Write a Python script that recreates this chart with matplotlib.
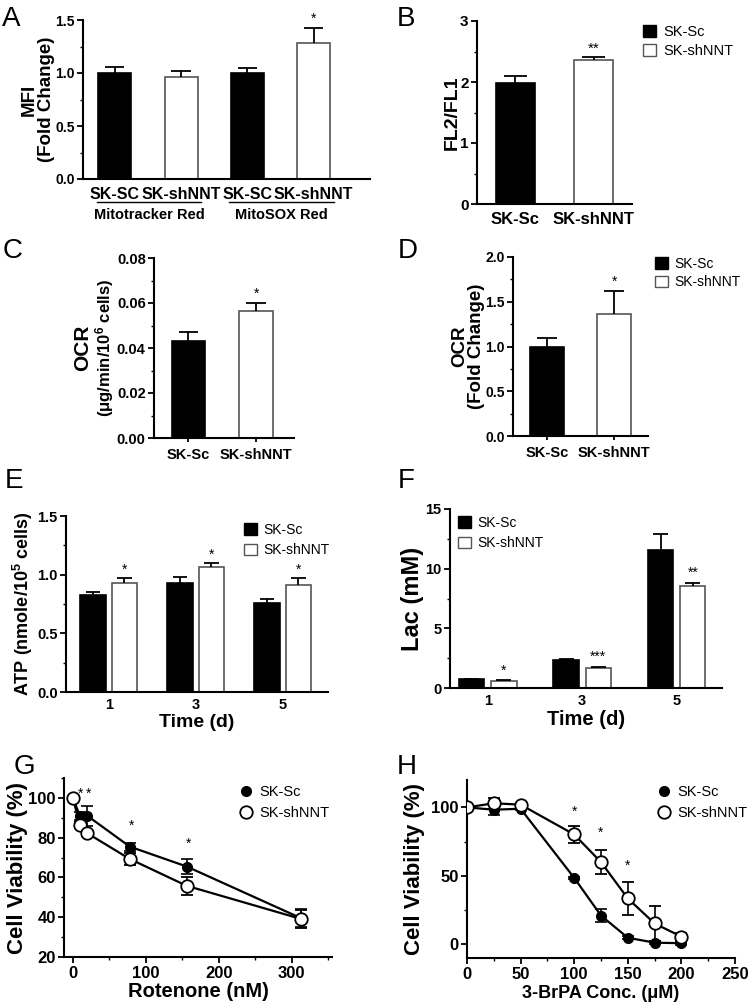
import matplotlib
matplotlib.use("Agg")
import matplotlib.pyplot as plt
from matplotlib.patches import Patch
from matplotlib.lines import Line2D
from matplotlib.ticker import AutoMinorLocator, MultipleLocator
import numpy as np

plt.rcParams["font.family"] = ["Liberation Sans", "DejaVu Sans"]
plt.rcParams["font.weight"] = "bold"
plt.rcParams["axes.labelweight"] = "bold"
plt.rcParams["mathtext.default"] = "regular"
plt.rcParams["axes.linewidth"] = 1.5
plt.rcParams["xtick.major.width"] = 1.3
plt.rcParams["ytick.major.width"] = 1.3
plt.rcParams["xtick.minor.width"] = 1.0
plt.rcParams["ytick.minor.width"] = 1.0
plt.rcParams["xtick.major.size"] = 4
plt.rcParams["ytick.major.size"] = 4
plt.rcParams["xtick.minor.size"] = 2.5
plt.rcParams["ytick.minor.size"] = 2.5
plt.rcParams["xtick.major.pad"] = 2.5
plt.rcParams["ytick.major.pad"] = 2

# ---- data ----
A_labels = ["SK-SC", "SK-shNNT", "SK-SC", "SK-shNNT"]
A_vals = [1.0, 0.965, 1.0, 1.285]
A_err = [0.06, 0.057, 0.044, 0.14]
A_stars = ["", "", "", "*"]
A_groups = ["Mitotracker Red", "MitoSOX Red"]

B_labels = ["SK-Sc", "SK-shNNT"]
B_vals = [1.98, 2.36]
B_err = [0.12, 0.045]
B_stars = ["", "**"]

C_vals = [0.0431, 0.0566]
C_err = [0.0039, 0.0033]
C_stars = ["", "*"]

D_vals = [1.0, 1.365]
D_err = [0.10, 0.25]
D_stars = ["", "*"]

days = ["1", "3", "5"]
E_sc = [0.827, 0.932, 0.756]
E_sc_err = [0.028, 0.051, 0.037]
E_sh = [0.926, 1.068, 0.912]
E_sh_err = [0.043, 0.034, 0.062]
E_stars = ["*", "*", "*"]

F_sc = [0.75, 2.35, 11.57]
F_sc_err = [0.03, 0.05, 1.31]
F_sh = [0.61, 1.70, 8.55]
F_sh_err = [0.03, 0.10, 0.28]
F_stars = ["*", "***", "**"]

G_x = [0, 10, 20, 78, 156, 312]
G_sc = [100, 90.8, 91, 75.5, 65.5, 39.6]
G_sc_err = [0, 2, 5, 2, 3.8, 4.5]
G_sh = [100, 86.4, 82.2, 69.3, 55.8, 39.2]
G_sh_err = [0, 1.5, 1.5, 3, 4.6, 4.5]

H_x = [0, 25, 50, 100, 125, 150, 175, 200]
H_sc = [100, 98.3, 99, 48.5, 21, 4.8, 1.2, 0.8]
H_sc_err = [0, 4, 1, 1, 5, 1, 1, 1]
H_sh = [100, 103, 102, 80.2, 60, 33.5, 15.2, 5.6]
H_sh_err = [0, 4, 1, 6, 9, 12, 12.5, 3]

legend_names = ["SK-Sc", "SK-shNNT"]

W, H = 750, 1006
fig = plt.figure(figsize=(W / 100, H / 100), dpi=100)


def ax_at(l, t, r, b):
    return fig.add_axes([l / W, 1 - b / H, (r - l) / W, (b - t) / H])


def style(ax, size=10):
    for s in ("top", "right"):
        ax.spines[s].set_visible(False)
    ax.tick_params(labelsize=size)


def bars(ax, x, vals, errs, fill, width, stars=None, star_off=0.0, star_size=10):
    edge = "black" if fill == "black" else "#555555"
    ax.bar(x, vals, width, color=fill, edgecolor=edge, linewidth=1.2, zorder=2)
    for xi, v, e in zip(x, vals, errs):
        ax.vlines(xi, v, v + e, color="black", lw=1.3, zorder=3)
        ax.hlines(v + e, xi - width * 0.29, xi + width * 0.29, color="black", lw=1.3, zorder=3)
    if stars:
        for xi, v, e, s in zip(x, vals, errs, stars):
            if s:
                ax.text(xi, v + e + star_off, s, ha="center", va="bottom",
                        fontsize=star_size, fontweight="normal")


def square_legend(ax, anchor, size=10, spacing=0.3):
    handles = [Patch(facecolor="black", edgecolor="black"),
               Patch(facecolor="white", edgecolor="#555555", linewidth=1.0)]
    ax.legend(handles, legend_names, loc="upper left", bbox_to_anchor=anchor,
              bbox_transform=fig.transFigure, frameon=False, handlelength=0.9,
              handleheight=0.9, handletextpad=0.5, borderpad=0, borderaxespad=0,
              labelspacing=spacing, prop={"size": size, "weight": "normal"})


def ylab(ax, text, size, right_px, left_px, width_px, **kw):
    # place the right edge of the rotated y label at a given pixel column
    ax.set_ylabel(text, fontsize=size, **kw)
    ax.yaxis.set_label_coords((right_px - left_px) / width_px, 0.5)


def letter(x, y, s):
    # y is the top of the capital letter in pixels
    fig.text(x / W, 1 - (y - 4) / H, s, fontsize=20, fontweight="normal", va="top", ha="left")


# ---- A ----
ax = ax_at(83, 20, 370, 179)
style(ax)
xa = np.arange(4)
fills = ["black", "white", "black", "white"]
for i in range(4):
    bars(ax, [xa[i]], [A_vals[i]], [A_err[i]], fills[i], 0.5, [A_stars[i]], 0.02)
ax.set_xlim(-0.48, 3.85)
ax.set_ylim(0, 1.5)
ax.set_yticks([0, 0.5, 1.0, 1.5])
ax.set_yticklabels(["0.0", "0.5", "1.0", "1.5"])
ax.yaxis.set_minor_locator(AutoMinorLocator(2))
ax.set_xticks(xa)
ax.set_xticklabels(A_labels, fontsize=11.5)
ax.tick_params(axis="x", length=0, pad=6)
ylab(ax, "MFI\n(Fold Change)", 13.5, 55, 83, 287, linespacing=1.05)
trans = ax.get_xaxis_transform()
for g, name in enumerate(A_groups):
    x0, x1 = 2 * g - 0.27, 2 * g + 1.3
    ax.plot([x0, x1], [-0.145, -0.145], color="black", lw=1.0, transform=trans, clip_on=False)
    ax.text((x0 + x1) / 2, -0.185, name, transform=trans, ha="center", va="top", fontsize=10.5)

# ---- B ----
ax = ax_at(477, 21, 632, 204)
style(ax, 11)
bars(ax, [0], [B_vals[0]], [B_err[0]], "black", 0.5)
bars(ax, [1], [B_vals[1]], [B_err[1]], "white", 0.5, [B_stars[1]], 0.03, 11)
ax.set_xlim(-0.49, 1.49)
ax.set_ylim(0, 3)
ax.set_yticks([0, 1, 2, 3])
ax.yaxis.set_minor_locator(AutoMinorLocator(2))
ax.set_xticks([0, 1])
ax.set_xticklabels(B_labels, fontsize=12)
ax.tick_params(axis="x", length=0, pad=6)
ylab(ax, "FL2/FL1", 14, 461, 477, 155)
square_legend(ax, (643 / W, 1 - 25 / H), size=10.5, spacing=0.35)

# ---- C ----
ax = ax_at(154, 258, 294, 438)
style(ax, 10.5)
bars(ax, [0], [C_vals[0]], [C_err[0]], "black", 0.5)
bars(ax, [1], [C_vals[1]], [C_err[1]], "white", 0.5, [C_stars[1]], 0.001)
ax.set_xlim(-0.51, 1.56)
ax.set_ylim(0, 0.08)
ax.set_yticks([0, 0.02, 0.04, 0.06, 0.08])
ax.set_yticklabels(["0.00", "0.02", "0.04", "0.06", "0.08"])
ax.yaxis.set_minor_locator(AutoMinorLocator(2))
ax.set_xticks([0, 1])
ax.set_xticklabels(B_labels, fontsize=10.5)
ax.tick_params(axis="x", length=3, pad=4)
ax.text(-0.51, 0.5, "OCR", rotation=90, transform=ax.transAxes, ha="center", va="center",
        fontsize=15)
ax.text(-0.35, 0.5, "(\u03bcg/min/10$^{6}$ cells)", rotation=90,
        transform=ax.transAxes, ha="center", va="center", fontsize=12)

# ---- D ----
ax = ax_at(513, 257, 648, 436)
style(ax, 10)
bars(ax, [0], [D_vals[0]], [D_err[0]], "black", 0.5)
bars(ax, [1], [D_vals[1]], [D_err[1]], "white", 0.5, [D_stars[1]], 0.03)
ax.set_xlim(-0.5, 1.5)
ax.set_ylim(0, 2.0)
ax.set_yticks([0, 0.5, 1.0, 1.5, 2.0])
ax.set_yticklabels(["0.0", "0.5", "1.0", "1.5", "2.0"])
ax.yaxis.set_minor_locator(AutoMinorLocator(2))
ax.set_xticks([0, 1])
ax.set_xticklabels(B_labels, fontsize=10.5)
ax.tick_params(axis="x", length=3, pad=4)
ylab(ax, "OCR\n(Fold Change)", 13.5, 485, 513, 135, linespacing=1.0)
square_legend(ax, (655 / W, 1 - 257 / H), size=10, spacing=0.3)

# ---- E ----
ax = ax_at(66, 516, 328, 692)
style(ax, 10.5)
xg = np.arange(3)
bars(ax, xg - 0.18, E_sc, E_sc_err, "black", 0.29)
bars(ax, xg + 0.18, E_sh, E_sh_err, "white", 0.29, E_stars, 0.01)
ax.set_xlim(-0.49, 2.52)
ax.set_ylim(0, 1.5)
ax.set_yticks([0, 0.5, 1.0, 1.5])
ax.set_yticklabels(["0.0", "0.5", "1.0", "1.5"])
ax.yaxis.set_minor_locator(AutoMinorLocator(2))
ax.set_xticks(xg)
ax.set_xticklabels(days, fontsize=10.5)
ax.tick_params(axis="x", length=0, pad=4)
ax.set_xlabel("Time (d)", fontsize=14, labelpad=2)
ylab(ax, "ATP (nmole/10$^{5}$ cells)", 13, 35, 66, 262)
square_legend(ax, (244 / W, 1 - 523 / H), size=10, spacing=0.45)

# ---- F ----
ax = ax_at(450, 509, 722, 688)
style(ax, 10.5)
bars(ax, xg - 0.17, F_sc, F_sc_err, "black", 0.27)
bars(ax, xg + 0.17, F_sh, F_sh_err, "white", 0.27, F_stars, 0.25)
ax.set_xlim(-0.4, 2.48)
ax.set_ylim(0, 15)
ax.set_yticks([0, 5, 10, 15])
ax.yaxis.set_minor_locator(AutoMinorLocator(2))
ax.set_xticks(xg)
ax.set_xticklabels(days, fontsize=10.5)
ax.tick_params(axis="x", length=0, pad=4)
ax.set_xlabel("Time (d)", fontsize=14.5, labelpad=2)
ylab(ax, "Lac (mM)", 17, 424, 450, 272)
square_legend(ax, (458 / W, 1 - 516 / H), size=10, spacing=0.45)

# ---- G ----
ax = ax_at(64, 778, 332, 957)
style(ax, 12)
ax.errorbar(G_x, G_sc, yerr=G_sc_err, color="black", lw=1.6, marker="o", ms=7,
            mfc="black", mec="black", capsize=4, elinewidth=1.2, capthick=1.2, zorder=3)
ax.errorbar(G_x, G_sh, yerr=G_sh_err, color="black", lw=1.6, marker="o", ms=9,
            mfc="white", mec="black", mew=1.3, capsize=4, elinewidth=1.2, capthick=1.2, zorder=4)
for sx, sy in [(10, 98.5), (22, 98.5), (80, 82.5), (159, 73.5)]:
    ax.text(sx, sy, "*", ha="center", va="bottom", fontsize=10, fontweight="normal")
ax.set_xlim(-12, 355)
ax.set_ylim(20, 110)
ax.set_xticks([0, 100, 200, 300])
ax.set_yticks([20, 40, 60, 80, 100])
ax.xaxis.set_minor_locator(MultipleLocator(50))
ax.yaxis.set_minor_locator(MultipleLocator(10))
ax.set_xlabel("Rotenone (nM)", fontsize=14.5, labelpad=1)
ylab(ax, "Cell Viability (%)", 16, 28, 64, 268)
hd = [Line2D([], [], color="black", marker="o", ms=7, lw=0),
      Line2D([], [], color="black", marker="o", ms=9, mfc="white", mew=1.3, lw=0)]
ax.legend(hd, legend_names, loc="upper left", bbox_to_anchor=(240 / W, 1 - 785 / H),
          bbox_transform=fig.transFigure, frameon=False, handlelength=0.8,
          handletextpad=0.5, borderpad=0, borderaxespad=0, labelspacing=0.5,
          prop={"size": 10.5, "weight": "normal"})

# ---- H ----
ax = ax_at(467, 780, 735, 958)
style(ax, 12)
ax.errorbar(H_x, H_sc, yerr=H_sc_err, color="black", lw=1.6, marker="o", ms=7,
            mfc="black", mec="black", capsize=4, elinewidth=1.2, capthick=1.2, zorder=3)
ax.errorbar(H_x, H_sh, yerr=H_sh_err, color="black", lw=1.6, marker="o", ms=9,
            mfc="white", mec="black", mew=1.3, capsize=4, elinewidth=1.2, capthick=1.2, zorder=4)
for sx, sy in [(100, 92), (125, 76), (150, 52.5)]:
    ax.text(sx, sy, "*", ha="center", va="bottom", fontsize=10, fontweight="normal")
ax.set_xlim(0, 250)
ax.set_ylim(-10, 120)
ax.set_xticks([0, 50, 100, 150, 200, 250])
ax.set_yticks([0, 50, 100])
ax.xaxis.set_minor_locator(MultipleLocator(25))
ax.yaxis.set_minor_locator(MultipleLocator(25))
ax.set_xlabel("3-BrPA Conc. (\u03bcM)", fontsize=13, labelpad=2)
ylab(ax, "Cell Viability (%)", 16, 425, 467, 268)
ax.legend(hd, legend_names, loc="upper left", bbox_to_anchor=(658 / W, 1 - 785 / H),
          bbox_transform=fig.transFigure, frameon=False, handlelength=0.8,
          handletextpad=0.5, borderpad=0, borderaxespad=0, labelspacing=0.5,
          prop={"size": 10.5, "weight": "normal"})

# ---- panel letters ----
for x, y, s in [(2, 10, "A"), (397, 10, "B"), (3, 242, "C"), (398, 242, "D"),
                (5, 472, "E"), (398, 472, "F"), (14, 758, "G"), (397, 758, "H")]:
    letter(x, y, s)

fig.savefig("out.png", dpi=100)
